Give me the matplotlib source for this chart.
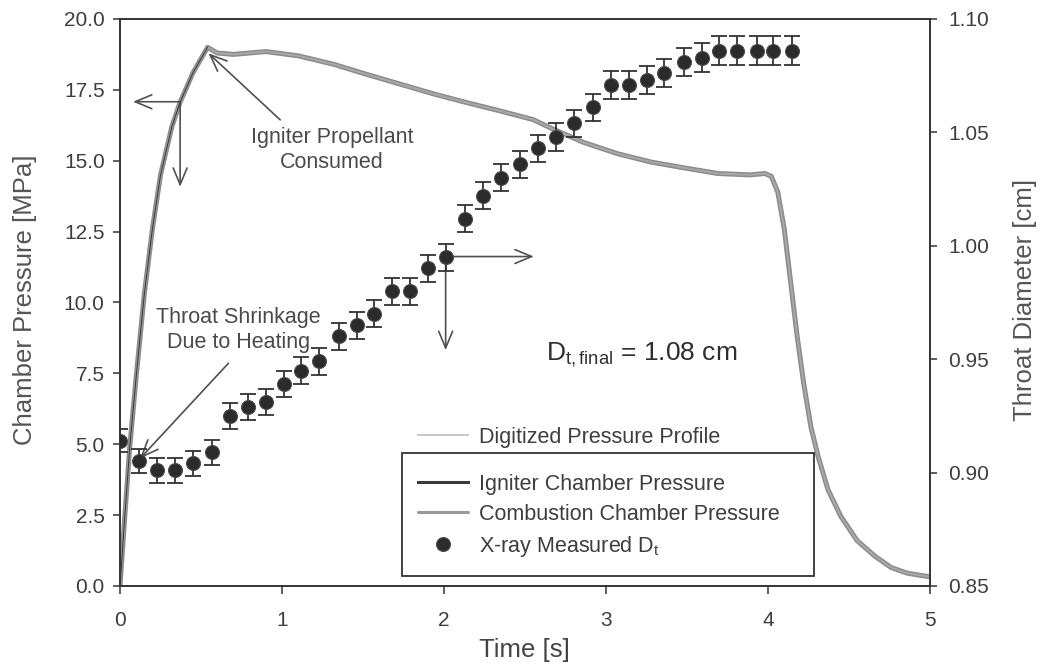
import numpy as np
import matplotlib.pyplot as plt
from matplotlib.patches import Rectangle

plt.rcParams['font.family'] = ['Liberation Sans', 'DejaVu Sans']
plt.rcParams['mathtext.fontset'] = 'custom'
plt.rcParams['mathtext.rm'] = 'Liberation Sans'
plt.rcParams['mathtext.it'] = 'Liberation Sans'

# chamber pressure trace [s, MPa]
press_t = [0.00, 0.03, 0.06, 0.10, 0.15, 0.20, 0.25, 0.32, 0.37, 0.45, 0.54,
           0.60, 0.70, 0.90, 1.10, 1.32, 1.52, 1.73, 1.94, 2.14, 2.35, 2.55,
           2.66, 2.86, 3.07, 3.28, 3.48, 3.69, 3.89, 3.98, 4.02, 4.06, 4.10,
           4.14, 4.18, 4.22, 4.265, 4.31, 4.37, 4.45, 4.55, 4.66, 4.76, 4.86, 4.99]
press_p = [0.0, 2.5, 4.9, 7.4, 10.3, 12.6, 14.5, 16.2, 17.05, 18.1, 19.0,
           18.8, 18.75, 18.85, 18.7, 18.4, 18.05, 17.7, 17.35, 17.05, 16.75, 16.45,
           16.15, 15.65, 15.25, 14.95, 14.75, 14.55, 14.5, 14.55, 14.45, 13.9, 12.6,
           10.7, 8.8, 7.15, 5.6, 4.55, 3.4, 2.45, 1.6, 1.05, 0.65, 0.45, 0.33]

# igniter chamber pressure (rise until igniter propellant is consumed)
ign_t = [0.00, 0.03, 0.06, 0.10, 0.15, 0.20, 0.25, 0.32, 0.37, 0.45, 0.54]
ign_p = [0.0, 2.5, 4.9, 7.4, 10.3, 12.6, 14.5, 16.2, 17.05, 18.1, 19.0]

# x-ray throat diameter [s, cm]
xray_t = [0.00, 0.12, 0.23, 0.34, 0.45, 0.57, 0.68, 0.79, 0.90, 1.01,
          1.12, 1.23, 1.35, 1.46, 1.57, 1.68, 1.79, 1.90, 2.01, 2.13,
          2.24, 2.35, 2.47, 2.58, 2.69, 2.80, 2.92, 3.03, 3.14, 3.25,
          3.36, 3.48, 3.59, 3.70, 3.81, 3.93, 4.03, 4.15]
xray_d = [0.914, 0.905, 0.901, 0.901, 0.904, 0.909, 0.925, 0.929, 0.931, 0.939,
          0.945, 0.949, 0.960, 0.965, 0.970, 0.980, 0.980, 0.990, 0.995, 1.012,
          1.022, 1.030, 1.036, 1.043, 1.048, 1.054, 1.061, 1.071, 1.071, 1.073,
          1.076, 1.081, 1.083, 1.086, 1.086, 1.086, 1.086, 1.086]
xray_err = [0.005, 0.0053, 0.0055, 0.0055, 0.0055, 0.0055, 0.0058, 0.0058, 0.0058, 0.0058,
            0.0058, 0.0058, 0.006, 0.006, 0.006, 0.006, 0.006, 0.006, 0.006, 0.006,
            0.006, 0.006, 0.006, 0.006, 0.006, 0.006, 0.006, 0.0062, 0.0062, 0.0062,
            0.0062, 0.0062, 0.0062, 0.0064, 0.0064, 0.0064, 0.0064, 0.0064]

txt = '#3e3e3e'
fig = plt.figure(figsize=(10.41, 6.68), dpi=100)
ax = fig.add_axes([0.1153, 0.1228, 0.7781, 0.8488])
ax2 = ax.twinx()

comb, = ax.plot(press_t, press_p, color='#8c8c8c', lw=3.6, solid_capstyle='round',
                label='Combustion Chamber Pressure', zorder=2)
digi, = ax.plot(press_t, press_p, color='#a9a9a9', lw=1.4,
                label='Digitized Pressure Profile', zorder=3)
ign, = ax.plot(ign_t, ign_p, color='#3a3a3a', lw=0.8,
               label='Igniter Chamber Pressure', zorder=4)

ax2.errorbar(xray_t, xray_d, yerr=xray_err, fmt='none', ecolor='#333333',
             elinewidth=1.3, capsize=6, capthick=1.3, zorder=3)
pts, = ax2.plot(xray_t, xray_d, 'o', ms=10, mfc='#2b2b2b', mec='#4a4a4a', mew=0.8,
                label='X-ray Measured D$_\\mathrm{t}$', zorder=4)

ax.set_xlim(0, 5)
ax.set_ylim(0, 20)
ax2.set_ylim(0.85, 1.10)
ax.set_xticks([0, 1, 2, 3, 4, 5])
ax.set_yticks(np.arange(0, 20.1, 2.5))
ax.set_yticklabels(['%.1f' % v for v in np.arange(0, 20.1, 2.5)])
ax2.set_yticks([0.85, 0.90, 0.95, 1.00, 1.05, 1.10])
ax2.set_yticklabels(['0.85', '0.90', '0.95', '1.00', '1.05', '1.10'])

for a in (ax, ax2):
    for s in a.spines.values():
        s.set_color('#333333')
        s.set_linewidth(1.2)
ax.tick_params(axis='both', colors='#333333', labelcolor=txt, labelsize=15,
               length=5, width=1.1)
ax.tick_params(axis='y', pad=6)
ax.tick_params(axis='x', pad=12, length=6)
ax2.tick_params(axis='y', colors='#333333', labelcolor=txt, labelsize=15,
                length=5, width=1.1, pad=8)

ax.set_xlabel('Time [s]', fontsize=18.5, color='#454545')
ax.set_ylabel('Chamber Pressure [MPa]', fontsize=18.5, color='#555555')
ax2.set_ylabel('Throat Diameter [cm]', fontsize=18.5, color='#555555')
ax.xaxis.set_label_coords(0.499, -0.092)
ax.yaxis.set_label_coords(-0.1025, 0.504)
ax2.yaxis.set_label_coords(1.1025, 0.504)

arr = dict(arrowstyle='->,head_length=0.6,head_width=0.25', color='#505050',
           lw=1.2, mutation_scale=20, shrinkA=0, shrinkB=0)
# pressure axis arrows
ax.annotate('', xy=(0.08, 17.08), xytext=(0.371, 17.08), arrowprops=arr)
ax.annotate('', xy=(0.371, 14.08), xytext=(0.371, 17.08), arrowprops=arr)
# diameter axis arrows
ax.annotate('', xy=(2.554, 11.62), xytext=(2.01, 11.62), arrowprops=arr)
ax.annotate('', xy=(2.01, 8.32), xytext=(2.01, 11.62), arrowprops=arr)
# callouts
ax.annotate('', xy=(0.546, 18.79), xytext=(0.989, 16.44), arrowprops=arr)
ax.text(1.31, 15.38, 'Igniter Propellant\nConsumed', ha='center', va='center',
        fontsize=15.5, color='#4a4a4a', linespacing=1.25)
ax.annotate('', xy=(0.124, 4.50), xytext=(0.669, 7.855), arrowprops=arr)
ax.text(0.729, 9.03, 'Throat Shrinkage\nDue to Heating', ha='center', va='center',
        fontsize=15.5, color='#4a4a4a', linespacing=1.25)
ax.text(2.63, 8.15, 'D$_\\mathrm{t,final}$ = 1.08 cm', ha='left', va='center',
        fontsize=19, color='#2e2e2e')

# legends: digitized entry sits above the framed box
leg1 = ax2.legend(handles=[digi], loc='upper left', bbox_to_anchor=(0.368, 0.281),
                  frameon=False, fontsize=15.5, borderpad=0, borderaxespad=0,
                  handlelength=2.3, handletextpad=0.55)
for t in leg1.get_texts():
    t.set_color(txt)
leg1.legend_handles[0].set_color('#c8c8c8')
ax2.add_artist(leg1)
leg2 = ax2.legend(handles=[ign, comb, pts], loc='upper left',
                  bbox_to_anchor=(0.368, 0.198), frameon=False, fontsize=15.5,
                  borderpad=0, borderaxespad=0, handlelength=2.3,
                  handletextpad=0.55, labelspacing=0.42)
for t in leg2.get_texts():
    t.set_color(txt)
leg2.legend_handles[0].set_linewidth(2.2)
leg2.legend_handles[1].set_linewidth(2.2)
leg2.legend_handles[1].set_color('#9a9a9a')
ax2.add_patch(Rectangle((0.3478, 0.0176), 0.509, 0.2175, transform=ax2.transAxes,
                        fill=False, edgecolor='#333333', lw=1.3, zorder=5))

fig.savefig('out.png', dpi=100)
